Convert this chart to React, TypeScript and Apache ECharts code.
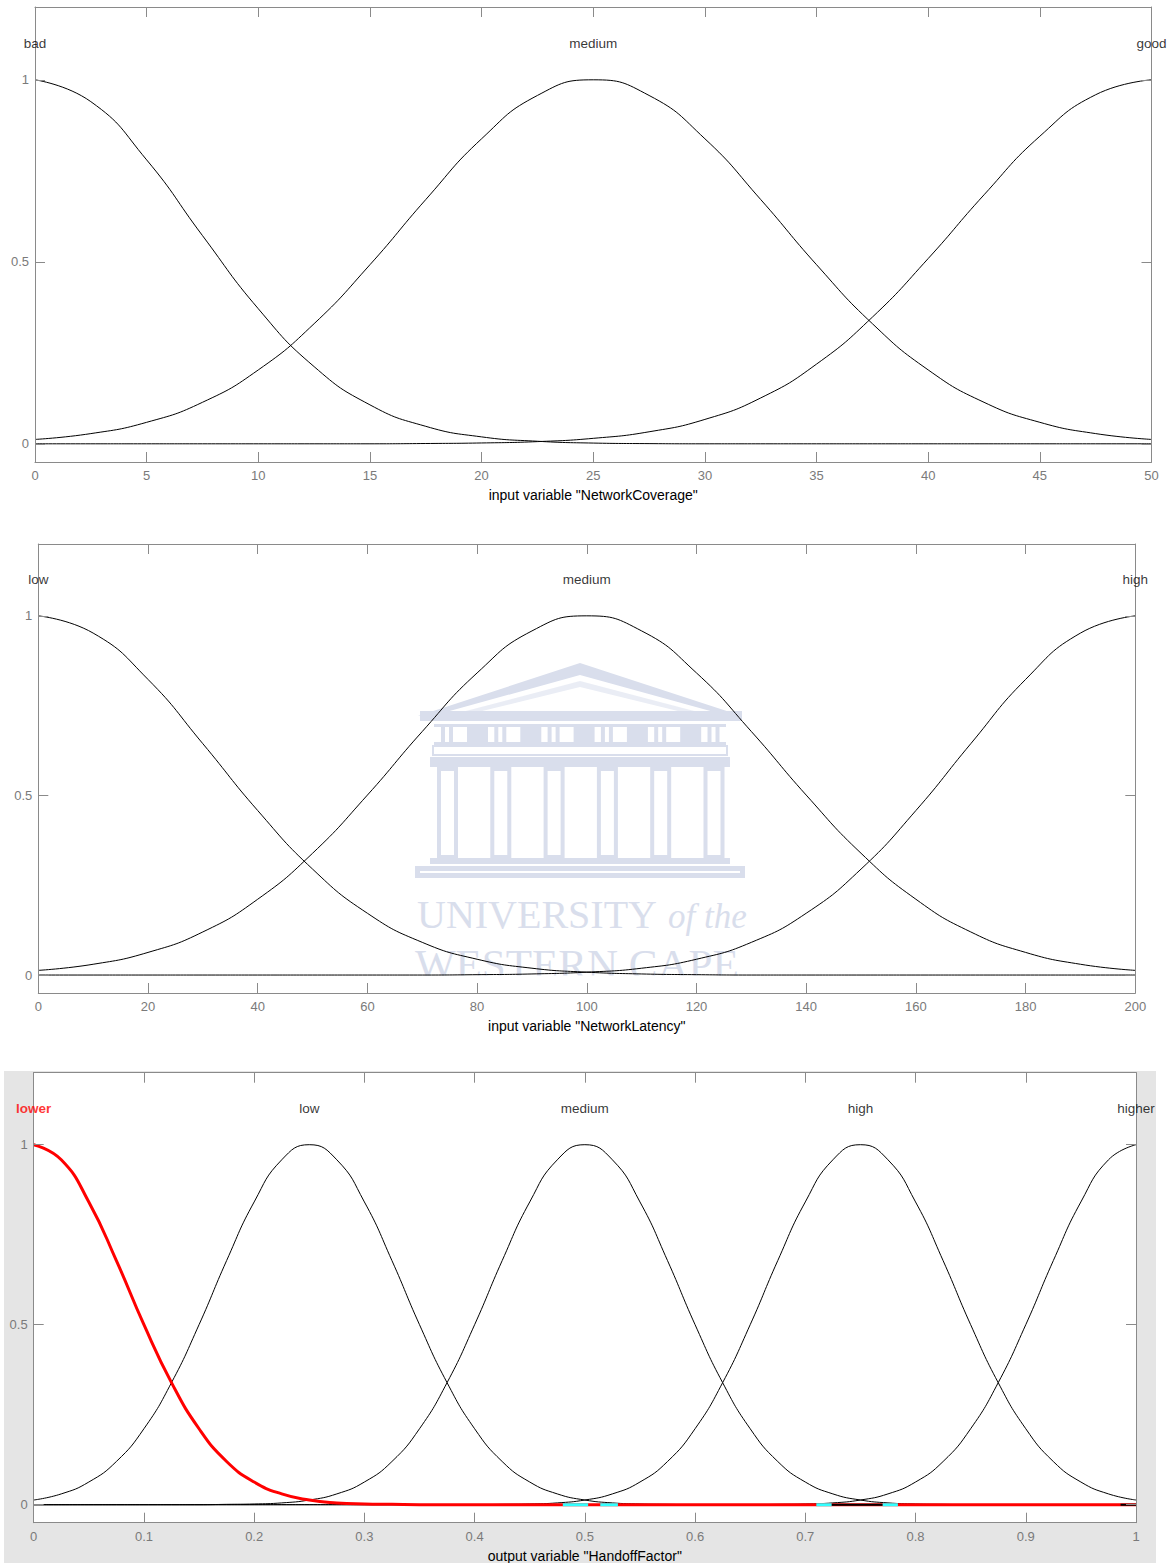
import React, { useEffect, useRef } from 'react';
import * as echarts from 'echarts';

// ---------- data ----------
const coverageX = [0, 2.5, 5, 7.5, 10, 12.5, 15, 17.5, 20, 22.5, 25, 27.5, 30, 32.5, 35, 37.5, 40, 42.5, 45, 47.5, 50];
const coverageBad = [1, 0.94, 0.78, 0.572, 0.371, 0.212, 0.107, 0.048, 0.019, 0.007, 0.002, 0.0005, 0, 0, 0, 0, 0, 0, 0, 0, 0];
const coverageMedium = [0.012, 0.028, 0.059, 0.114, 0.203, 0.33, 0.492, 0.671, 0.838, 0.957, 1, 0.957, 0.838, 0.671, 0.492, 0.33, 0.203, 0.114, 0.059, 0.028, 0.012];
const coverageGood = [0, 0, 0, 0, 0, 0, 0, 0.0008, 0.0023, 0.006, 0.015, 0.033, 0.067, 0.126, 0.219, 0.348, 0.509, 0.684, 0.845, 0.959, 1];
const coverageLabels = [
  { name: 'bad', x: 0 },
  { name: 'medium', x: 25 },
  { name: 'good', x: 50 },
];

const latencyX = [0, 10, 20, 30, 40, 50, 60, 70, 80, 90, 100, 110, 120, 130, 140, 150, 160, 170, 180, 190, 200];
const latencyLow = [1, 0.952, 0.823, 0.644, 0.458, 0.295, 0.172, 0.091, 0.044, 0.019, 0.008, 0.003, 0.001, 0, 0, 0, 0, 0, 0, 0, 0];
const latencyMedium = [0.013, 0.03, 0.063, 0.12, 0.211, 0.339, 0.501, 0.678, 0.841, 0.958, 1, 0.958, 0.841, 0.678, 0.501, 0.339, 0.211, 0.12, 0.063, 0.03, 0.013];
const latencyHigh = [0, 0, 0, 0, 0, 0, 0, 0, 0.001, 0.003, 0.008, 0.019, 0.044, 0.091, 0.172, 0.295, 0.458, 0.644, 0.823, 0.952, 1];
const latencyLabels = [
  { name: 'low', x: 0 },
  { name: 'medium', x: 100 },
  { name: 'high', x: 200 },
];

const handoffX = [0, 0.025, 0.05, 0.075, 0.1, 0.125, 0.15, 0.175, 0.2, 0.225, 0.25, 0.275, 0.3, 0.325, 0.35, 0.375, 0.4, 0.425, 0.45, 0.475, 0.5,
  0.525, 0.55, 0.575, 0.6, 0.625, 0.65, 0.675, 0.7, 0.725, 0.75, 0.775, 0.8, 0.825, 0.85, 0.875, 0.9, 0.925, 0.95, 0.975, 1];
const handoffLower = [1, 0.958, 0.841, 0.678, 0.5, 0.339, 0.211, 0.12, 0.063, 0.03, 0.013, 0.005, 0.002, 0.001, 0, 0, 0, 0, 0, 0, 0,
  0, 0, 0, 0, 0, 0, 0, 0, 0, 0, 0, 0, 0, 0, 0, 0, 0, 0, 0, 0];
const handoffLow = [0.013, 0.03, 0.063, 0.12, 0.211, 0.339, 0.5, 0.678, 0.841, 0.958, 1, 0.958, 0.841, 0.678, 0.5, 0.339, 0.211, 0.12, 0.063, 0.03, 0.013,
  0.005, 0.002, 0.001, 0, 0, 0, 0, 0, 0, 0, 0, 0, 0, 0, 0, 0, 0, 0, 0, 0];
const handoffMedium = [0, 0, 0, 0, 0, 0, 0, 0.001, 0.002, 0.005, 0.013, 0.03, 0.063, 0.12, 0.211, 0.339, 0.5, 0.678, 0.841, 0.958, 1,
  0.958, 0.841, 0.678, 0.5, 0.339, 0.211, 0.12, 0.063, 0.03, 0.013, 0.005, 0.002, 0.001, 0, 0, 0, 0, 0, 0, 0];
const handoffHigh = [0, 0, 0, 0, 0, 0, 0, 0, 0, 0, 0, 0, 0, 0, 0, 0, 0, 0.001, 0.002, 0.005, 0.013,
  0.03, 0.063, 0.12, 0.211, 0.339, 0.5, 0.678, 0.841, 0.958, 1, 0.958, 0.841, 0.678, 0.5, 0.339, 0.211, 0.12, 0.063, 0.03, 0.013];
const handoffHigher = [0, 0, 0, 0, 0, 0, 0, 0, 0, 0, 0, 0, 0, 0, 0, 0, 0, 0, 0, 0, 0,
  0, 0, 0, 0, 0, 0, 0.001, 0.002, 0.005, 0.013, 0.03, 0.063, 0.12, 0.211, 0.339, 0.5, 0.678, 0.841, 0.958, 1];
const handoffLabels = [
  { name: 'lower', x: 0, red: true },
  { name: 'low', x: 0.25 },
  { name: 'medium', x: 0.5 },
  { name: 'high', x: 0.75 },
  { name: 'higher', x: 1 },
];
// short highlighted stretches on the zero level of the output plot
const handoffCyanSegments = [[0.48, 0.503], [0.514, 0.53], [0.71, 0.724], [0.77, 0.784]];
const handoffBlackSegments = [[0.724, 0.77], [0.986, 1]];

const yTicks = [0, 0.5, 1];
const labelLevel = 1.1;

// ---------- styling ----------
const FONT = '"Liberation Sans", Arial, sans-serif';
const SERIF = '"Liberation Serif", "Times New Roman", serif';
const AXIS_GRAY = '#8a8a8a';
const LABEL_GRAY = '#7a7a7a';
const WM = '#d9deec';

const panels = [
  { grid: { left: 35, top: 7, width: 1116.5, height: 455 }, min: 0, max: 50, interval: 5, name: 'input variable "NetworkCoverage"' },
  { grid: { left: 38.3, top: 544, width: 1097, height: 449 }, min: 0, max: 200, interval: 20, name: 'input variable "NetworkLatency"' },
  { grid: { left: 33.7, top: 1072.7, width: 1102.3, height: 450 }, min: 0, max: 1, interval: 0.1, name: 'output variable "HandoffFactor"' },
];

function buildAxes() {
  const xAxis: any[] = [];
  const yAxis: any[] = [];
  panels.forEach((p, i) => {
    const common = {
      gridIndex: i,
      type: 'value',
      min: p.min,
      max: p.max,
      interval: p.interval,
      splitLine: { show: false },
      axisLine: { show: true, onZero: false, lineStyle: { color: AXIS_GRAY, width: 1 } },
      axisTick: { show: true, inside: true, length: 10, lineStyle: { color: AXIS_GRAY, width: 1 } },
      z: 5,
    };
    xAxis.push({
      ...common,
      position: 'bottom',
      axisLabel: { color: LABEL_GRAY, fontSize: 13, fontFamily: FONT, margin: 7 },
      name: p.name,
      nameLocation: 'middle',
      nameGap: 26,
      nameTextStyle: { color: '#000', fontSize: 14, fontFamily: FONT, verticalAlign: 'top' },
    });
    xAxis.push({
      ...common,
      position: 'top',
      axisLabel: { show: false },
    });
    const ycommon = {
      gridIndex: i,
      type: 'value',
      min: -0.05,
      max: 1.2,
      splitLine: { show: false },
      axisLine: { show: true, onZero: false, lineStyle: { color: AXIS_GRAY, width: 1 } },
      axisTick: { show: true, inside: true, length: 10, customValues: yTicks, lineStyle: { color: AXIS_GRAY, width: 1 } },
      z: 5,
    };
    yAxis.push({
      ...ycommon,
      position: 'left',
      axisLabel: { color: LABEL_GRAY, fontSize: 13, fontFamily: FONT, margin: 6, customValues: yTicks },
    });
    yAxis.push({
      ...ycommon,
      position: 'right',
      axisLabel: { show: false },
    });
  });
  return { xAxis, yAxis };
}

function lineSeries(panel: number, xs: number[], ys: number[], color = '#000', width = 1, z = 2) {
  return {
    type: 'line',
    xAxisIndex: panel * 2,
    yAxisIndex: panel * 2,
    data: xs.map((x, i) => [x, ys[i]]),
    showSymbol: false,
    symbol: 'none',
    smooth: 0.5,
    lineStyle: { color, width },
    z,
    silent: true,
  };
}

function segmentSeries(panel: number, segments: number[][], color: string, width: number, z: number) {
  const data: any[] = [];
  segments.forEach((s, i) => {
    if (i > 0) data.push('-');
    data.push([s[0], 0], [s[1], 0]);
  });
  return {
    type: 'line',
    xAxisIndex: panel * 2,
    yAxisIndex: panel * 2,
    data,
    showSymbol: false,
    symbol: 'none',
    connectNulls: false,
    lineStyle: { color, width },
    z,
    silent: true,
  };
}

function labelSeries(panel: number, labels: { name: string; x: number; red?: boolean }[]) {
  return {
    type: 'scatter',
    xAxisIndex: panel * 2,
    yAxisIndex: panel * 2,
    symbolSize: 0.01,
    clip: false,
    itemStyle: { color: 'rgba(0,0,0,0)' },
    silent: true,
    z: 6,
    data: labels.map((l) => ({
      name: l.name,
      value: [l.x, labelLevel],
      label: l.red ? { color: '#ff0000', fontWeight: 'bold' } : undefined,
    })),
    label: { show: true, position: 'inside', formatter: '{b}', color: '#000', fontSize: 13.5, fontFamily: FONT },
  };
}

function watermark() {
  const els: any[] = [];
  // pediment
  els.push({ type: 'polygon', shape: { points: [[418, 716], [580, 663], [742, 716]] }, style: { fill: WM }, z: 0, silent: true });
  els.push({ type: 'polygon', shape: { points: [[446, 712], [580, 675], [714, 712]] }, style: { fill: '#ffffff' }, z: 0, silent: true });
  els.push({ type: 'polygon', shape: { points: [[462, 712], [580, 681], [698, 712]] }, style: { fill: WM, opacity: 0.55 }, z: 0, silent: true });
  els.push({ type: 'polygon', shape: { points: [[478, 712], [580, 687], [682, 712]] }, style: { fill: '#ffffff' }, z: 0, silent: true });
  els.push({ type: 'rect', shape: { x: 420, y: 711, width: 322, height: 10 }, style: { fill: WM }, z: 0, silent: true });
  // frieze
  els.push({ type: 'rect', shape: { x: 434, y: 724, width: 292, height: 3 }, style: { fill: WM }, z: 0, silent: true });
  for (let k = 0; k < 6; k++) {
    const bx = 441 + 53.3 * k;
    els.push({ type: 'rect', shape: { x: bx, y: 727, width: 4, height: 15 }, style: { fill: WM }, z: 0, silent: true });
    els.push({ type: 'rect', shape: { x: bx + 8, y: 727, width: 4, height: 15 }, style: { fill: WM }, z: 0, silent: true });
    if (k < 5) {
      els.push({ type: 'rect', shape: { x: bx + 26, y: 727, width: 21, height: 15 }, style: { fill: WM }, z: 0, silent: true });
    }
  }
  els.push({ type: 'rect', shape: { x: 434, y: 742, width: 292, height: 3 }, style: { fill: WM }, z: 0, silent: true });
  els.push({ type: 'rect', shape: { x: 433, y: 746, width: 294, height: 9 }, style: { fill: 'none', stroke: WM, lineWidth: 2 }, z: 0, silent: true });
  // architrave
  els.push({ type: 'rect', shape: { x: 430, y: 757, width: 300, height: 10 }, style: { fill: WM }, z: 0, silent: true });
  // columns
  for (let i = 0; i < 6; i++) {
    const cx = 437 + 53.3 * i;
    els.push({ type: 'rect', shape: { x: cx + 2, y: 769, width: 17, height: 88 }, style: { fill: 'none', stroke: WM, lineWidth: 4 }, z: 0, silent: true });
  }
  // base
  els.push({ type: 'rect', shape: { x: 430, y: 858, width: 300, height: 6 }, style: { fill: WM }, z: 0, silent: true });
  els.push({ type: 'rect', shape: { x: 415, y: 866, width: 330, height: 12 }, style: { fill: WM }, z: 0, silent: true });
  els.push({ type: 'rect', shape: { x: 420, y: 871, width: 320, height: 2 }, style: { fill: '#ffffff' }, z: 0, silent: true });
  // text
  els.push({ type: 'text', x: 417, y: 914, style: { text: 'UNIVERSITY', font: `40px ${SERIF}`, fill: WM, verticalAlign: 'middle' }, z: 0, silent: true });
  els.push({ type: 'text', x: 668, y: 916, style: { text: 'of the', font: `italic 35px ${SERIF}`, fill: WM, verticalAlign: 'middle' }, z: 0, silent: true });
  els.push({ type: 'text', x: 415, y: 964, style: { text: 'WESTERN CAPE', font: `43px ${SERIF}`, fill: WM, verticalAlign: 'middle' }, z: 0, silent: true });
  // cover below the zero level (the watermark is hidden there)
  els.push({ type: 'rect', shape: { x: 39, y: 975.5, width: 1095.5, height: 17 }, style: { fill: '#ffffff' }, z: 1, silent: true });
  return els;
}

export default function App() {
  const ref = useRef<HTMLDivElement>(null);
  useEffect(() => {
    if (!ref.current) return;
    const chart = echarts.init(ref.current, null, { renderer: 'svg' });
    const { xAxis, yAxis } = buildAxes();
    const option: any = {
      animation: false,
      backgroundColor: '#ffffff',
      textStyle: { fontFamily: FONT },
      grid: panels.map((p) => ({ ...p.grid, containLabel: false, outerBoundsMode: 'none' })),
      xAxis,
      yAxis,
      graphic: {
        elements: [
          { type: 'rect', shape: { x: 4, y: 1071, width: 1152, height: 492 }, style: { fill: '#e5e5e5' }, z: -10, silent: true },
          { type: 'rect', shape: { x: 33.7, y: 1072.7, width: 1102.3, height: 450 }, style: { fill: '#ffffff' }, z: -9, silent: true },
          ...watermark(),
        ],
      },
      series: [
        lineSeries(0, coverageX, coverageBad),
        lineSeries(0, coverageX, coverageMedium),
        lineSeries(0, coverageX, coverageGood),
        labelSeries(0, coverageLabels),
        lineSeries(1, latencyX, latencyLow),
        lineSeries(1, latencyX, latencyMedium),
        lineSeries(1, latencyX, latencyHigh),
        labelSeries(1, latencyLabels),
        lineSeries(2, handoffX, handoffLow),
        lineSeries(2, handoffX, handoffMedium),
        lineSeries(2, handoffX, handoffHigh),
        lineSeries(2, handoffX, handoffHigher),
        lineSeries(2, handoffX, handoffLower, '#ff0000', 3, 3),
        segmentSeries(2, handoffCyanSegments, '#33ffff', 3, 4),
        segmentSeries(2, handoffBlackSegments, '#000000', 2, 4),
        labelSeries(2, handoffLabels),
      ],
    };
    chart.setOption(option);
    return () => chart.dispose();
  }, []);
  return <div ref={ref} style={{ position: 'absolute', left: 0, top: 0, width: 1174, height: 1563 }} />;
}
